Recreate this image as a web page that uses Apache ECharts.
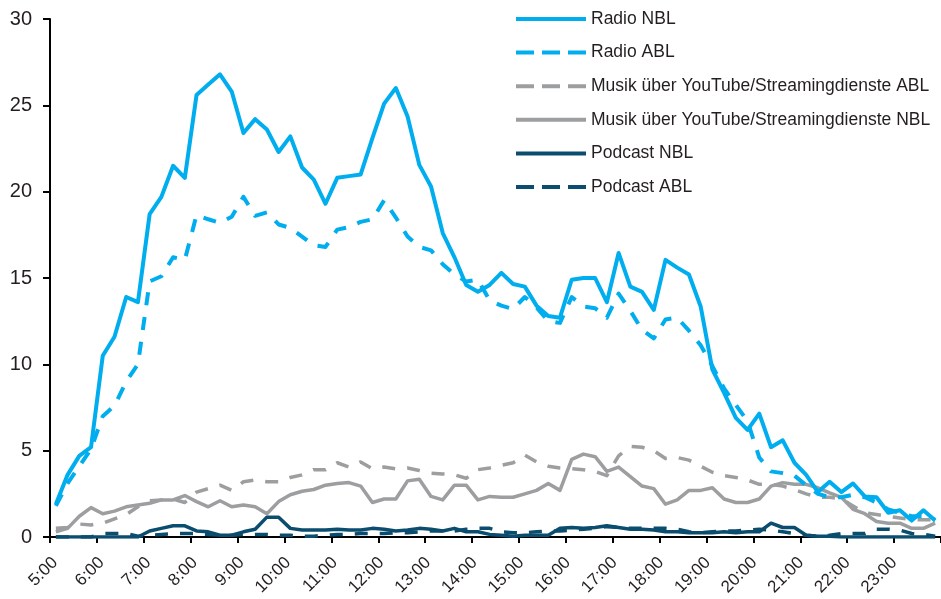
<!DOCTYPE html>
<html>
<head>
<meta charset="utf-8">
<script src="https://cdn.jsdelivr.net/npm/echarts@6/dist/echarts.min.js"></script>
<style>html,body{margin:0;padding:0;background:#fff}#c{width:941px;height:599px}</style>
</head>
<body>
<div id="c"></div>
<script>
// 15-minute slots (start times); points are drawn at slot centres
const slots = ["5:00","5:15","5:30","5:45","6:00","6:15","6:30","6:45","7:00","7:15","7:30","7:45",
"8:00","8:15","8:30","8:45","9:00","9:15","9:30","9:45","10:00","10:15","10:30","10:45",
"11:00","11:15","11:30","11:45","12:00","12:15","12:30","12:45","13:00","13:15","13:30","13:45",
"14:00","14:15","14:30","14:45","15:00","15:15","15:30","15:45","16:00","16:15","16:30","16:45",
"17:00","17:15","17:30","17:45","18:00","18:15","18:30","18:45","19:00","19:15","19:30","19:45",
"20:00","20:15","20:30","20:45","21:00","21:15","21:30","21:45","22:00","22:15","22:30","22:45",
"23:00","23:15","23:30","23:45"];

const hourLabels = ["5:00","6:00","7:00","8:00","9:00","10:00","11:00","12:00","13:00","14:00",
"15:00","16:00","17:00","18:00","19:00","20:00","21:00","22:00","23:00"];

const yTicks = [0,5,10,15,20,25,30];

const radioNBL = [1.9,3.6,4.7,5.2,10.5,11.6,13.9,13.6,18.7,19.7,21.5,20.8,25.6,26.2,26.8,25.8,23.4,24.2,23.6,22.3,23.2,21.4,20.7,19.3,20.8,
20.9,21.0,23.1,25.1,26.0,24.35,21.55,20.3,17.6,16.2,14.6,14.2,14.6,15.3,14.65,14.5,13.4,12.8,12.7,14.9,15.0,15.0,13.6,16.45,14.5,
14.2,13.15,16.05,15.6,15.2,13.35,9.7,8.35,6.9,6.2,7.15,5.2,5.6,4.3,3.6,2.6,3.2,2.6,3.1,2.35,2.3,1.4,1.55,0.95,1.55,0.95];

const radioABL = [1.8,3.1,4.1,5.1,7.0,7.6,9.0,10.0,14.8,15.1,16.2,16.05,18.65,18.4,18.2,18.55,19.7,18.6,18.8,18.1,17.9,17.4,16.9,16.8,17.8,
17.95,18.25,18.4,19.5,18.5,17.4,16.8,16.6,15.8,15.2,14.8,14.9,13.7,13.4,13.2,13.9,13.3,12.5,12.4,13.9,13.35,13.25,12.7,14.1,13.1,
12.0,11.5,12.6,12.7,11.95,11.1,9.9,8.6,7.65,6.7,4.6,3.8,3.7,3.55,3.0,2.5,2.3,2.3,2.45,2.3,2.0,1.6,1.4,1.2,1.2,1.0];

const musikABL = [0.5,0.55,0.75,0.7,0.8,1.05,1.3,1.75,2.1,2.15,2.2,2.0,2.6,2.8,3.0,2.7,3.2,3.3,3.2,3.2,3.45,3.6,3.9,3.9,4.3,
4.05,4.35,3.95,4.05,3.95,4.0,3.85,3.7,3.65,3.6,3.4,3.9,4.0,4.15,4.3,4.75,4.35,4.1,4.0,3.95,3.9,3.8,3.55,4.7,5.25,
5.2,5.0,4.55,4.6,4.45,4.1,3.75,3.55,3.45,3.3,3.05,3.05,2.95,2.75,2.5,2.3,2.3,2.2,1.8,1.4,1.3,1.2,1.1,1.0,1.0,1.0];

const musikNBL = [0.3,0.5,1.2,1.7,1.35,1.5,1.75,1.85,1.95,2.15,2.15,2.4,2.05,1.75,2.1,1.75,1.85,1.75,1.35,2.05,2.45,2.65,2.75,3.0,3.1,
3.15,2.95,2.0,2.2,2.2,3.25,3.35,2.35,2.15,3.0,3.0,2.15,2.35,2.3,2.3,2.5,2.7,3.1,2.7,4.5,4.8,4.65,3.8,4.05,3.5,
2.95,2.8,1.9,2.15,2.7,2.7,2.85,2.2,2.0,2.0,2.2,2.95,3.15,3.05,3.05,2.85,2.55,2.3,1.6,1.35,0.9,0.8,0.8,0.5,0.5,0.8];

const podcastNBL = [0,0,0,0,0,0,0,0,0.35,0.5,0.65,0.65,0.35,0.3,0.1,0.1,0.3,0.45,1.15,1.15,0.5,0.4,0.4,0.4,0.45,
0.4,0.4,0.5,0.45,0.35,0.4,0.5,0.45,0.35,0.5,0.3,0.3,0.15,0.1,0.05,0.1,0.1,0.1,0.5,0.55,0.5,0.55,0.65,0.55,0.45,
0.45,0.4,0.3,0.3,0.25,0.25,0.25,0.3,0.25,0.3,0.3,0.8,0.55,0.55,0.1,0.05,0.05,0,0,0,0,0,0,0,0,0];

const podcastABL = [0,0,0,0,0.2,0.2,0.2,0.05,0.1,0.15,0.2,0.2,0.2,0.15,0.1,0.1,0.15,0.15,0.15,0.1,0.1,0.05,0.05,0.1,0.15,
0.15,0.2,0.2,0.2,0.25,0.25,0.3,0.35,0.35,0.35,0.45,0.5,0.5,0.3,0.25,0.25,0.3,0.35,0.35,0.4,0.45,0.5,0.6,0.55,0.5,
0.5,0.5,0.5,0.45,0.3,0.25,0.3,0.35,0.35,0.4,0.45,0.4,0.3,0.2,0.1,0.05,0.1,0.2,0.2,0.2,0.45,0.45,0.4,0.2,0.15,0.05];

const FONT = "'Liberation Sans', Arial, sans-serif";
const TXT = '#231f20';
const BLUE = '#00adef', GRAY = '#9d9ea0', DARK = '#0a4d6e';

function slotCentre(label) {
  const p = label.split(':').map(Number);
  return p[0] + p[1] / 60 + 0.125;
}
function pairs(vals) { return vals.map((v, i) => [slotCentre(slots[i]), v]); }

const defs = [
  {name: 'Radio NBL', data: radioNBL, color: BLUE, dashed: false, w: 4, z: 5},
  {name: 'Radio ABL', data: radioABL, color: BLUE, dashed: true, w: 4, z: 5},
  {name: 'Musik über YouTube/Streamingdienste ABL', data: musikABL, color: GRAY, dashed: true, w: 3.5, z: 3},
  {name: 'Musik über YouTube/Streamingdienste NBL', data: musikNBL, color: GRAY, dashed: false, w: 3.5, z: 3},
  {name: 'Podcast NBL', data: podcastNBL, color: DARK, dashed: false, w: 3.5, z: 4},
  {name: 'Podcast ABL', data: podcastABL, color: DARK, dashed: true, w: 3.5, z: 4}
];

const chart = echarts.init(document.getElementById('c'));
chart.setOption({
  animation: false,
  backgroundColor: '#fff',
  grid: [
    {left: 50, right: -5, top: 19, bottom: 62},
    {left: 55, right: -10, top: 19, bottom: 62}
  ],
  xAxis: [{
    type: 'value', gridIndex: 0, min: 5, max: 24, interval: 1,
    axisLine: {show: true, lineStyle: {color: '#000', width: 2}},
    axisTick: {show: true, length: 6, lineStyle: {color: '#000', width: 2}},
    splitLine: {show: false},
    axisLabel: {show: false}
  }, {
    type: 'value', gridIndex: 1, min: 5, max: 24, interval: 1,
    axisLine: {show: false}, axisTick: {show: false}, splitLine: {show: false},
    axisLabel: {
      rotate: 45, fontSize: 17, color: TXT, fontFamily: FONT, margin: 23,
      showMaxLabel: false,
      formatter: function (v) { const s = v + ':00'; return hourLabels.indexOf(s) >= 0 ? s : ''; }
    }
  }],
  yAxis: [{
    type: 'value', gridIndex: 0, min: yTicks[0], max: yTicks[yTicks.length - 1], interval: yTicks[1] - yTicks[0],
    axisLine: {show: true, lineStyle: {color: '#000', width: 2}},
    axisTick: {show: true, length: 7, lineStyle: {color: '#000', width: 2}},
    splitLine: {show: false},
    axisLabel: {fontSize: 20, color: TXT, fontFamily: FONT, margin: 18}
  }, {
    type: 'value', gridIndex: 1, min: 0, max: 30, interval: 5, show: false
  }],
  legend: {
    orient: 'vertical', left: 509, top: 4,
    itemWidth: 70, itemHeight: 14, itemGap: 13.6,
    textStyle: {fontSize: 17.5, lineHeight: 20, color: TXT, fontFamily: FONT},
    data: defs.map(d => ({
      name: d.name,
      itemStyle: {opacity: 0},
      lineStyle: {type: d.dashed ? [18, 8] : 'solid', width: 4, opacity: 1}
    }))
  },
  series: defs.map(d => ({
    name: d.name, type: 'line', symbol: 'none', z: d.z,
    xAxisIndex: 0, yAxisIndex: 0,
    data: pairs(d.data),
    color: d.color,
    lineStyle: {color: d.color, width: d.w, type: d.dashed ? [13, 12] : 'solid', cap: 'butt', join: 'round'}
  }))
});
</script>
</body>
</html>
